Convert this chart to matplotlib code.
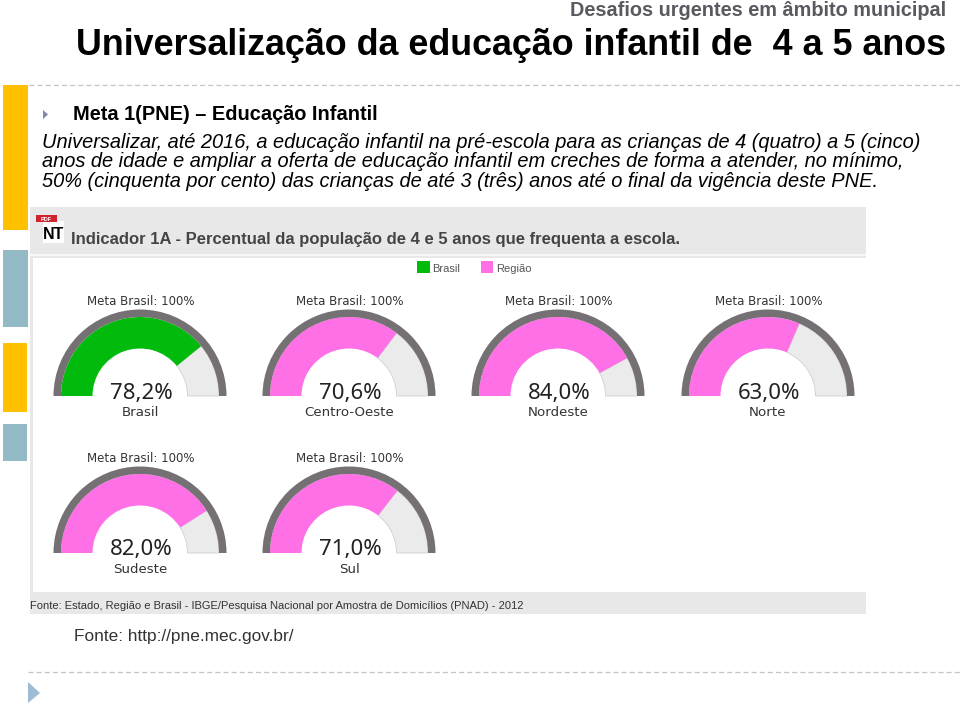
import matplotlib
matplotlib.use('Agg')
import matplotlib.pyplot as plt
from matplotlib.patches import Rectangle, Wedge, Polygon

plt.rcParams['font.family'] = ['Liberation Sans', 'DejaVu Sans']

regioes = ['Brasil', 'Centro-Oeste', 'Nordeste', 'Norte', 'Sudeste', 'Sul']
valores = [78.2, 70.6, 84.0, 63.0, 82.0, 71.0]
rotulos = ['78,2%', '70,6%', '84,0%', '63,0%', '82,0%', '71,0%']
cores_regiao = ['#00bb0c', '#ff6fe6', '#ff6fe6', '#ff6fe6', '#ff6fe6', '#ff6fe6']
legenda = ['Brasil', 'Região']
meta = 'Meta Brasil: 100%'

texto_meta = [
	'Universalizar, até 2016, a educação infantil na pré-escola para as crianças de 4 (quatro) a 5 (cinco)',
	'anos de idade e ampliar a oferta de educação infantil em creches de forma a atender, no mínimo,',
	'50% (cinquenta por cento) das crianças de até 3 (três) anos até o final da vigência deste PNE.',
]

ANEL = '#757073'
FUNDO = '#ebebeb'
AMARELO = '#ffc000'
AZUL = '#93b9c6'
CINZA = '#e8e8e8'

W, H = 960, 705
centros = [(140, 396), (349, 396), (558, 396), (768, 396), (140, 553), (349, 553)]


def Y(y):
	# picture coords run downwards
	return H - y


def caixa(ax, x0, y0, x1, y1, cor, z=1):
	ax.add_patch(Rectangle((x0, Y(y1)), x1 - x0, y1 - y0, facecolor=cor, edgecolor='none', zorder=z))


def escreve(ax, x, y, s, **kw):
	kw.setdefault('va', 'baseline')
	kw.setdefault('zorder', 6)
	ax.text(x, Y(y), s, **kw)


def gauge(ax, cx, cy, valor, cor, rotulo, nome):
	ang = 180 - 180 * valor / 100
	ax.add_patch(Wedge((cx, Y(cy)), 79, 0, ang, width=31.5, facecolor=FUNDO, edgecolor='#d0d0d0', lw=0.6, zorder=3))
	ax.add_patch(Wedge((cx, Y(cy)), 79, ang, 180, width=31.5, facecolor=cor, edgecolor='none', zorder=4))
	ax.add_patch(Wedge((cx, Y(cy)), 86.5, 0, 180, width=7.5, facecolor=ANEL, edgecolor='none', zorder=5))
	escreve(ax, cx + 1, cy - 91, meta, fontsize=8.5, family='DejaVu Sans', color='#333333', ha='center')
	escreve(ax, cx + 1, cy + 2.5, rotulo, fontsize=16, family='Noto Sans', color='#222222', ha='center')
	escreve(ax, cx, cy + 20, nome, fontsize=9.6, family='DejaVu Sans', color='#333333', ha='center')


fig = plt.figure(figsize=(W / 100, H / 100), dpi=100)
ax = fig.add_axes([0, 0, 1, 1])
ax.set_xlim(0, W)
ax.set_ylim(0, H)
ax.axis('off')

# faixas laterais
caixa(ax, 3, 85, 28, 229.5, AMARELO)
caixa(ax, 3, 250, 28, 327, AZUL)
caixa(ax, 3, 343, 26.5, 412, AMARELO)
caixa(ax, 3, 424, 26.5, 460.5, AZUL)

# linhas tracejadas
ax.plot([29, W], [Y(85), Y(85)], color='#c4c4c4', lw=0.9, ls=(0, (4, 2.5)))
ax.plot([28, W], [Y(672), Y(672)], color='#c4c4c4', lw=0.9, ls=(0, (4, 2.5)))
ax.add_patch(Polygon([(28, Y(682)), (40, Y(693)), (28, Y(703))], facecolor='#9dbdd6', edgecolor='none'))
ax.add_patch(Polygon([(43, Y(110)), (48, Y(114.5)), (43, Y(119))], facecolor='#7f8aa8', edgecolor='none'))

# cabecalho
escreve(ax, 946, 16, 'Desafios urgentes em âmbito municipal', fontsize=14.3, fontweight='bold', color='#595a60', ha='right')
escreve(ax, 946, 55, 'Universalização da educação infantil de  4 a 5 anos', fontsize=25.8, fontweight='bold', color='black', ha='right')
escreve(ax, 73, 120, 'Meta 1(PNE) – Educação Infantil', fontsize=14.4, fontweight='bold', color='black')
for i, linha in enumerate(texto_meta):
	escreve(ax, 42, 148 + i * 19.3, linha, fontsize=14.45, style='italic', color='black')

# painel
caixa(ax, 30, 207, 866, 614, CINZA)
caixa(ax, 30, 254, 866, 256, '#f7f7f7', 2)
caixa(ax, 33, 258, 866, 592, 'white', 2)
escreve(ax, 71, 244, 'Indicador 1A - Percentual da população de 4 e 5 anos que frequenta a escola.', fontsize=12, fontweight='bold', color='#444444')
caixa(ax, 43, 221, 64, 243, 'white', 3)
escreve(ax, 43, 239, 'NT', fontsize=11.5, fontweight='bold', color='black')
caixa(ax, 36, 215, 57, 222, '#d0232b', 4)
escreve(ax, 46.5, 221, 'PDF', fontsize=4, fontweight='bold', color='white', ha='center')
escreve(ax, 30, 609, 'Fonte: Estado, Região e Brasil - IBGE/Pesquisa Nacional por Amostra de Domicílios (PNAD) - 2012', fontsize=8, color='#333333')

# legenda
caixa(ax, 417, 261, 430, 273, cores_regiao[0], 3)
caixa(ax, 481, 261, 493, 273, cores_regiao[1], 3)
escreve(ax, 432, 272, legenda[0], fontsize=8, color='#555555')
escreve(ax, 496, 272, legenda[1], fontsize=8, color='#555555')

for (cx, cy), v, c, r, n in zip(centros, valores, cores_regiao, rotulos, regioes):
	gauge(ax, cx, cy, v, c, r, n)

escreve(ax, 74, 641.5, 'Fonte: http://pne.mec.gov.br/', fontsize=12.4, color='#333333')

fig.savefig('out.png', dpi=100)
